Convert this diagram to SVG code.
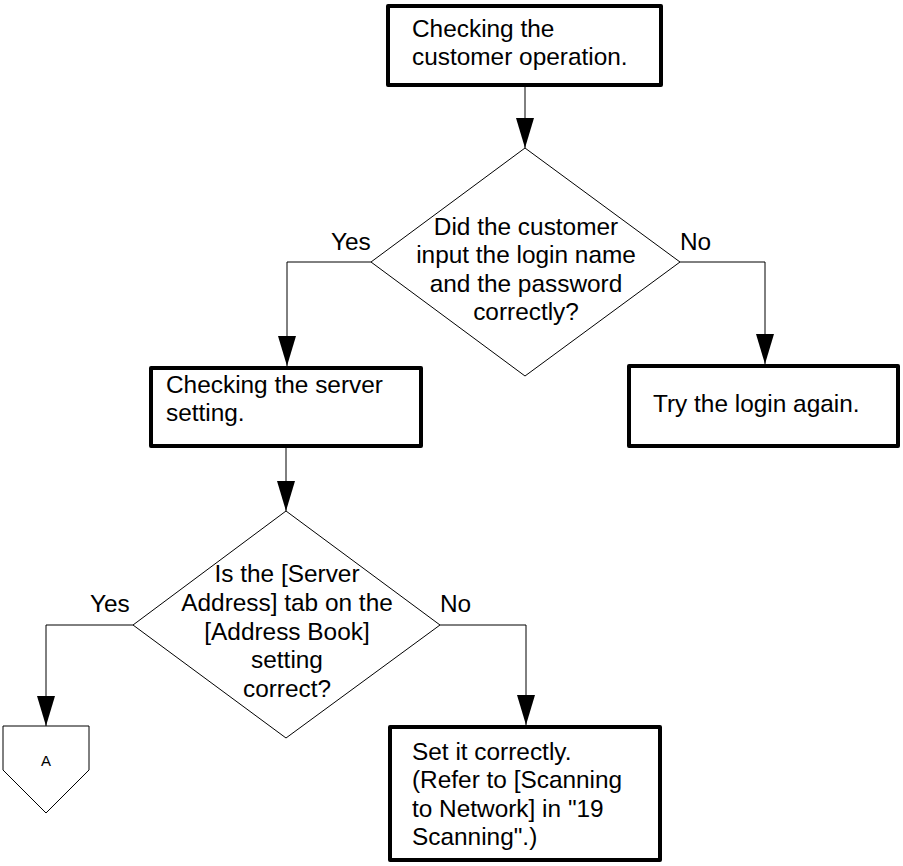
<svg xmlns="http://www.w3.org/2000/svg" width="903" height="866" viewBox="0 0 903 866">
  <style>
    .box { fill: #fff; stroke: #000; stroke-width: 4; stroke-linejoin: round; }
    .dec { fill: #fff; stroke: #000; stroke-width: 1; }
    .off { fill: #fff; stroke: #000; stroke-width: 1; }
    .wire { fill: none; stroke: #000; stroke-width: 1; marker-end: url(#arrow); }
    text { font-family: "Liberation Sans", Arial, sans-serif; font-size: 24.4px; fill: #000; }
    .mid { text-anchor: middle; }
    .small { font-size: 15px; }
  </style>
  <defs>
    <marker id="arrow" markerUnits="userSpaceOnUse" markerWidth="30" markerHeight="18" refX="30" refY="9" orient="auto">
      <path d="M0,0 L30,9 L0,18 Z" fill="#000"/>
    </marker>
  </defs>

  <!-- connectors -->
  <g id="connectors">
    <path class="wire" d="M525,87 V148"/>
    <path class="wire" d="M371,262 H287 V366"/>
    <path class="wire" d="M680,262 H765 V364"/>
    <path class="wire" d="M286,448 V511"/>
    <path class="wire" d="M133,625 H46 V726"/>
    <path class="wire" d="M440,625 H526 V725"/>
    <text x="331" y="250">Yes</text>
    <text x="680" y="250">No</text>
    <text x="90" y="612">Yes</text>
    <text x="440" y="612">No</text>
  </g>

  <g id="check-operation">
    <rect class="box" x="388" y="6" width="273" height="79"/>
    <text x="412" y="37">Checking the</text>
    <text x="412" y="65">customer operation.</text>
  </g>

  <g id="login-correct">
    <polygon class="dec" points="525,148 680,262 525,376 371,262"/>
    <text class="mid" x="526" y="235">Did the customer</text>
    <text class="mid" x="526" y="263">input the login name</text>
    <text class="mid" x="526" y="292">and the password</text>
    <text class="mid" x="526" y="320">correctly?</text>
  </g>

  <g id="check-server">
    <rect class="box" x="151" y="368" width="270" height="78"/>
    <text x="166" y="393">Checking the server</text>
    <text x="166" y="421">setting.</text>
  </g>

  <g id="retry-login">
    <rect class="box" x="629" y="366" width="269" height="80"/>
    <text x="653" y="412">Try the login again.</text>
  </g>

  <g id="address-correct">
    <polygon class="dec" points="286,511 440,625 286,738 133,625"/>
    <text class="mid" x="287" y="582">Is the [Server</text>
    <text class="mid" x="287" y="611">Address] tab on the</text>
    <text class="mid" x="287" y="640">[Address Book]</text>
    <text class="mid" x="287" y="668">setting</text>
    <text class="mid" x="287" y="697">correct?</text>
  </g>

  <g id="page-link-a">
    <polygon class="off" points="3,726 89,726 89,770 46,813 3,770"/>
    <text class="mid small" x="46" y="766">A</text>
  </g>

  <g id="set-correctly">
    <rect class="box" x="390" y="727" width="270" height="133"/>
    <text x="412" y="760">Set it correctly.</text>
    <text x="412" y="788">(Refer to [Scanning</text>
    <text x="412" y="817">to Network] in "19</text>
    <text x="412" y="845">Scanning".)</text>
  </g>
</svg>
